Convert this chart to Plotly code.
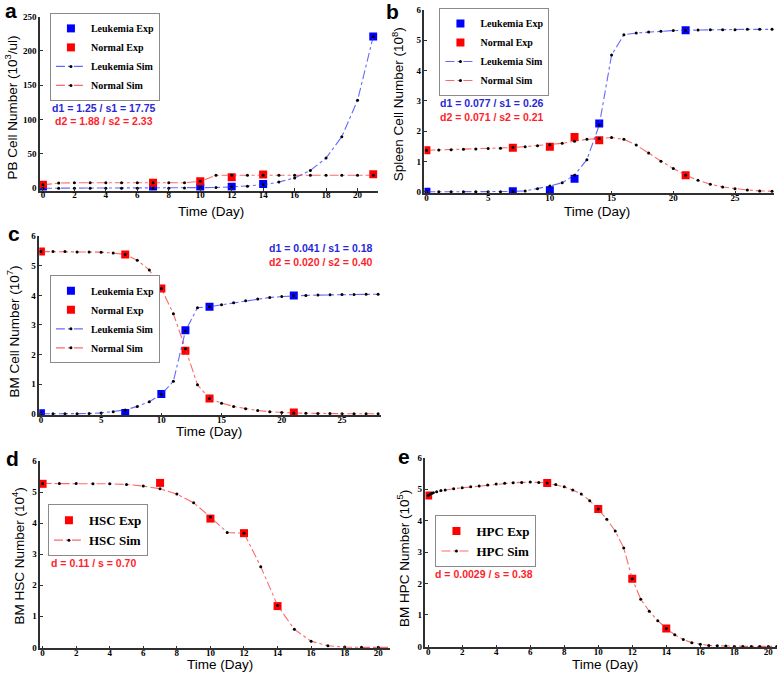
import plotly.graph_objects as go

W, H = 778, 679

# ---------------- data ----------------
exp_days = [0, 7, 10, 12, 14, 21]

# panel a (PB)
days_a = list(range(0, 22))
leuk_sim_a = [0, 0, 0, 0, 0, 0, 0, 0, 0, 0.3, 0.7, 1, 2, 3, 5, 9, 15, 26, 44, 75, 128, 221]
normal_sim_a = [5, 7.5, 8, 8, 8, 8, 8, 8, 8, 8, 10, 19, 19, 19, 19, 19, 19, 19, 19, 19, 19, 19]
leuk_exp_a = [0, 0, 1, 2, 6, 221]
normal_exp_a = [5, 8, 10, 16, 20, 20.5]

# panel b (Spleen)
days_b = list(range(0, 29))
leuk_sim_b = [0, 0, 0, 0, 0, 0, 0, 0.01, 0.03, 0.1, 0.19, 0.3, 0.55, 1.06, 2.2, 4.51, 5.18,
              5.24, 5.27, 5.3, 5.32, 5.33, 5.34, 5.35, 5.35, 5.35, 5.36, 5.36, 5.36]
normal_sim_b = [1.37, 1.38, 1.39, 1.4, 1.41, 1.43, 1.44, 1.46, 1.49, 1.52, 1.55, 1.6, 1.67, 1.73,
                1.76, 1.79, 1.73, 1.54, 1.28, 1.01, 0.77, 0.55, 0.38, 0.25, 0.16, 0.1, 0.06, 0.03, 0.02]
leuk_exp_b = [0, 0.02, 0.05, 0.43, 2.25, 5.33]
normal_exp_b = [1.37, 1.45, 1.49, 1.81, 1.70, 0.55]

# panel c (BM)
days_c = list(range(0, 29))
leuk_sim_c = [0, 0, 0, 0, 0.01, 0.03, 0.07, 0.13, 0.25, 0.41, 0.66, 1.1, 2.8, 3.58, 3.62, 3.68,
              3.75, 3.82, 3.88, 3.93, 3.96, 3.99, 4.0, 4.01, 4.02, 4.03, 4.03, 4.04, 4.04]
normal_sim_c = [5.48, 5.48, 5.48, 5.47, 5.47, 5.46, 5.43, 5.38, 5.19, 4.86, 4.23, 3.38, 2.2, 0.98,
                0.52, 0.36, 0.25, 0.17, 0.11, 0.07, 0.04, 0.03, 0.02, 0.01, 0.01, 0, 0, 0, 0]
leuk_exp_c = [0.02, 0.03, 0.67, 2.82, 3.62, 4.0]
normal_exp_c = [5.48, 5.38, 4.23, 2.13, 0.52, 0.04]

# panel d (HSC)
days_d = list(range(0, 22))
hsc_sim = [5.28, 5.28, 5.28, 5.27, 5.27, 5.25, 5.2, 5.11, 4.94, 4.66, 4.2, 3.7, 3.68, 2.6, 1.35,
           0.58, 0.2, 0.05, 0.01, 0, 0, 0]
hsc_exp = [5.27, 5.30, 4.15, 3.68, 1.33, 0.17]

# panel e (HPC)
days_e = [0, 0.1, 0.2, 0.3, 0.5, 0.75, 1, 1.5, 2, 2.5, 3, 3.5, 4, 4.5, 5, 5.5, 6, 6.5, 7, 7.5,
          8, 8.5, 9, 9.5, 10, 10.5, 11, 11.5, 12, 12.5, 13, 13.5, 14, 14.5, 15, 15.5, 16, 16.5,
          17, 17.5, 18, 18.5, 19, 19.5, 20, 20.5]
hpc_sim = [4.8, 4.84, 4.87, 4.89, 4.92, 4.96, 4.98, 5.02, 5.05, 5.08, 5.11, 5.14, 5.17, 5.19,
           5.21, 5.22, 5.23, 5.22, 5.2, 5.15, 5.08, 4.98, 4.85, 4.64, 4.37, 4.05, 3.67, 3.13,
           2.15, 1.5, 1.12, 0.82, 0.57, 0.37, 0.22, 0.12, 0.07, 0.03, 0.02, 0.01, 0, 0, 0, 0, 0, 0]
hpc_exp_days = [0, 7, 10, 12, 14]
hpc_exp = [4.8, 5.2, 4.37, 2.15, 0.57]

x_ticks_a = [0, 2, 4, 6, 8, 10, 12, 14, 16, 18, 20]
y_ticks_a = [0, 50, 100, 150, 200, 250]
x_ticks_bc = [0, 5, 10, 15, 20, 25]
y_ticks = [0, 1, 2, 3, 4, 5, 6]

# ---------------- styles ----------------
BLUE = "rgb(0,0,255)"
RED = "rgb(255,0,0)"
BLUE_LINE = "rgba(40,40,255,0.7)"
RED_LINE = "rgba(255,40,40,0.7)"
TXT_BLUE = "rgb(40,40,215)"
TXT_RED = "rgb(255,30,45)"
SERIF = "Liberation Serif"
SANS = "Liberation Sans"


def px(x):
    return x / W


def py(y):
    return 1 - y / H


fig = go.Figure()


def exp_trace(x, y, name, color, ax, lg, clip=True):
    fig.add_trace(go.Scatter(
        x=x, y=y, name=name, mode="markers",
        marker=dict(symbol="square", size=8, color=color, line=dict(width=0)),
        xaxis="x" + ax, yaxis="y" + ax, legend=lg, cliponaxis=clip))


def sim_trace(x, y, name, color, ax, lg):
    fig.add_trace(go.Scatter(
        x=x, y=y, name=name, mode="lines+markers",
        line=dict(color=color, width=1.1, dash="dashdot"),
        marker=dict(symbol="circle", size=3, color="black"),
        xaxis="x" + ax, yaxis="y" + ax, legend=lg))


# panel a
exp_trace(exp_days, leuk_exp_a, "Leukemia Exp", BLUE, "", "legend")
exp_trace(exp_days, normal_exp_a, "Normal Exp", RED, "", "legend")
sim_trace(days_a, leuk_sim_a, "Leukemia Sim", BLUE_LINE, "", "legend")
sim_trace(days_a, normal_sim_a, "Normal Sim", RED_LINE, "", "legend")
# panel b
exp_trace(exp_days, leuk_exp_b, "Leukemia Exp", BLUE, "2", "legend2")
exp_trace(exp_days, normal_exp_b, "Normal Exp", RED, "2", "legend2")
sim_trace(days_b, leuk_sim_b, "Leukemia Sim", BLUE_LINE, "2", "legend2")
sim_trace(days_b, normal_sim_b, "Normal Sim", RED_LINE, "2", "legend2")
# panel c
exp_trace(exp_days, leuk_exp_c, "Leukemia Exp", BLUE, "3", "legend3")
exp_trace(exp_days, normal_exp_c, "Normal Exp", RED, "3", "legend3")
sim_trace(days_c, leuk_sim_c, "Leukemia Sim", BLUE_LINE, "3", "legend3")
sim_trace(days_c, normal_sim_c, "Normal Sim", RED_LINE, "3", "legend3")
# panel d
exp_trace(exp_days, hsc_exp, "HSC Exp", RED, "4", "legend4", clip=False)
sim_trace(days_d, hsc_sim, "HSC Sim", RED_LINE, "4", "legend4")
# panel e
exp_trace(hpc_exp_days, hpc_exp, "HPC Exp", RED, "5", "legend5")
sim_trace(days_e, hpc_sim, "HPC Sim", RED_LINE, "5", "legend5")

tickfont = dict(family=SERIF, size=9, color="black", weight="bold")


def axes(suffix, xdom, ydom, xr, yr, xt, yt):
    common = dict(showline=True, linecolor="#303030", linewidth=1.5, ticks="inside",
                  ticklen=3, tickcolor="#303030", showgrid=False, zeroline=False,
                  tickfont=tickfont, mirror=False)
    fig.layout["xaxis" + suffix] = dict(domain=[px(xdom[0]), px(xdom[1])], range=xr,
                                       anchor="y" + suffix, tickvals=xt,
                                       ticklabelstandoff=-5, **common)
    fig.layout["yaxis" + suffix] = dict(domain=[py(ydom[1]), py(ydom[0])], range=yr,
                                       anchor="x" + suffix, tickvals=yt, **common)


axes("", (39, 377), (11.7, 188), [-0.19, 21.27], [-3.3, 250], x_ticks_a, y_ticks_a)
axes("2", (424, 774), (5, 191), [-0.16, 28.16], [-0.055, 6], x_ticks_bc, y_ticks)
axes("3", (38.3, 380), (234.3, 416), [-0.14, 28.2], [-0.057, 6], x_ticks_bc, y_ticks)
axes("4", (39.3, 390), (462.3, 652), [-0.14, 20.73], [-0.032, 6], x_ticks_a, y_ticks)
axes("5", (425, 777), (459, 651), [-0.16, 20.51], [-0.031, 6], x_ticks_a, y_ticks)


def legend_cfg(x, y, size):
    return dict(x=px(x), y=py(y), xanchor="left", yanchor="top", xref="paper", yref="paper",
                bgcolor="white", bordercolor="#8a8a8a", borderwidth=1, itemwidth=30,
                tracegroupgap=0, font=dict(family=SERIF, size=size, color="black", weight="bold"))


fig.update_layout(
    legend=legend_cfg(49, 8, 10),
    legend2=legend_cfg(439, 3, 10),
    legend3=legend_cfg(49, 274, 10),
    legend4=legend_cfg(47, 506, 13),
    legend5=legend_cfg(435, 517, 13),
)

annotations = []


def text(x, y, s, color, size=10.5, bold=True, anchor="center", family=SANS, angle=0):
    annotations.append(dict(x=px(x), y=py(y), xref="paper", yref="paper", text=s,
                            showarrow=False, xanchor=anchor, yanchor="middle", textangle=angle,
                            font=dict(family=family, size=size, color=color,
                                      weight="bold" if bold else "normal")))


# panel letters
for lx, ly, letter in [(10, 6, "a"), (392, 7, "b"), (13, 232, "c"), (12, 460, "d"), (404, 458, "e")]:
    text(lx, ly, letter, "black", size=21)

# x titles
for tx, ty in [(210, 209), (597, 209), (208, 432), (219, 668), (605, 668)]:
    text(tx, ty, "Time (Day)", "black", size=13.5, bold=False)

# y titles
text(10, 104, "PB Cell Number (10<sup>3</sup>/ul)", "black", size=13.5, bold=False, angle=-90)
text(397, 100, "Spleen Cell Number (10<sup>8</sup>)", "black", size=13.5, bold=False, angle=-90)
text(12, 331, "BM Cell Number (10<sup>7</sup>)", "black", size=13.5, bold=False, angle=-90)
text(17, 558, "BM HSC Number (10<sup>4</sup>)", "black", size=13.5, bold=False, angle=-90)
text(402, 561, "BM HPC Number (10<sup>5</sup>)", "black", size=13.5, bold=False, angle=-90)

# fitted parameter texts
text(103, 104, "d1 = 1.25 / s1 = 17.75", TXT_BLUE)
text(103, 118, "d2 = 1.88 / s2 = 2.33", TXT_RED)
text(491, 99, "d1 = 0.077 / s1 = 0.26", TXT_BLUE)
text(491, 113, "d2 = 0.071 / s2 = 0.21", TXT_RED)
text(320, 246, "d1 = 0.041 / s1 = 0.18", TXT_BLUE)
text(320, 260, "d2 = 0.020 / s2 = 0.40", TXT_RED)
text(93, 566, "d = 0.11 / s = 0.70", TXT_RED)
text(484, 577, "d = 0.0029 / s = 0.38", TXT_RED)

fig.update_layout(
    annotations=annotations,
    width=W, height=H,
    margin=dict(l=0, r=0, t=0, b=0),
    paper_bgcolor="white", plot_bgcolor="white",
    showlegend=True,
)

# remove the browser's default page margin so the figure sits at the window origin
fig.write_html("out.html", config={"displayModeBar": False},
               post_script="document.body.style.margin='0';")
